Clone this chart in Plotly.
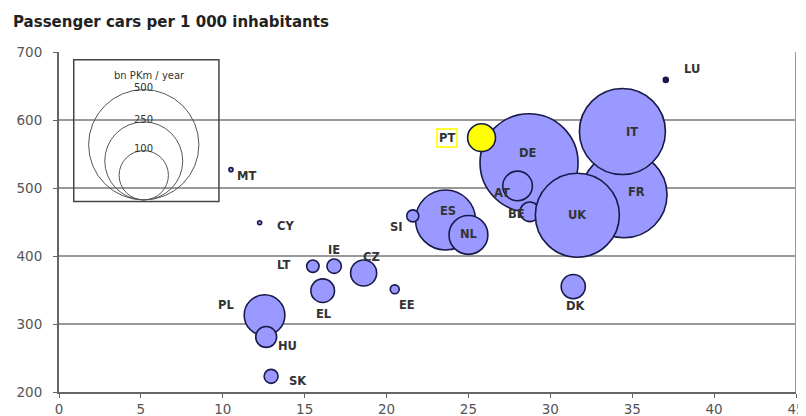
import plotly.graph_objects as go
import math

# ---- data ----
countries = ["FR", "IT", "DE", "ES", "NL", "BE", "UK", "AT", "PT", "SI", "DK",
             "PL", "HU", "SK", "LT", "IE", "CZ", "EL", "EE", "CY", "MT", "LU"]
x_values = [34.5, 34.4, 28.7, 23.6, 25.0, 28.75, 31.65, 28.0, 25.8, 21.6, 31.4,
            12.55, 12.65, 12.95, 15.5, 16.8, 18.6, 16.1, 20.5, 12.25, 10.5, 37.05]
cars_per_1000 = [490, 583, 537, 453, 431, 465, 460, 503, 574, 459, 355,
                 313, 281, 223, 385, 385, 375, 349, 351, 449, 527, 659]
bn_pkm = [304, 304, 395, 148, 62, 16, 290, 36, 32, 6, 24,
          68, 18, 8, 6.3, 8.5, 28, 23, 3.3, 0.2, 0.25, 1.0]
legend_values = [500, 250, 100]
x_ticks = list(range(0, 50, 5))
y_ticks = list(range(200, 800, 100))

# label offsets (pixels, dx right, dy down) -- styling only
label_offsets = {
    "LU": (26, -11), "IT": (10, 0), "FR": (12, -3), "DE": (-1, -10), "UK": (0, 0),
    "AT": (-16, 7), "BE": (-13, 2), "ES": (2, -9), "NL": (1, -1), "PT": (-35, 0),
    "SI": (-16, 11), "DK": (3, 19), "EE": (12, 16), "CY": (26, 3), "LT": (-29, -1),
    "IE": (0, -16), "CZ": (8, -16), "EL": (1, 23), "PL": (-39, -10), "HU": (21, 9),
    "SK": (27, 5), "MT": (16, 6),
}

SIZEREF = 0.0822  # area mode: radius_px = sqrt(v / (2*SIZEREF))
def radius_px(v):
    return math.sqrt(v / (2 * SIZEREF))

BUBBLE = "#9999FF"
colors = []
for c in countries:
    if c == "PT":
        colors.append("#FFFF00")
    elif c == "LU":
        colors.append("#1a1a4a")
    else:
        colors.append(BUBBLE)

fig = go.Figure()
fig.add_trace(go.Scatter(
    x=x_values, y=cars_per_1000, mode="markers", text=countries,
    marker=dict(size=bn_pkm, sizemode="area", sizeref=SIZEREF, sizemin=2,
                color=colors, opacity=1,
                line=dict(color="#1a1a4a", width=1.6)),
    hovertemplate="%{text}<extra></extra>", showlegend=False,
))

FONT = "DejaVu Sans"
annotations = []
for c, xv, yv in zip(countries, x_values, cars_per_1000):
    dx, dy = label_offsets[c]
    ann = dict(x=xv, y=yv, xref="x", yref="y", text=f"<b>{c}</b>", showarrow=False,
               xanchor="center", yanchor="middle",
               xshift=dx, yshift=-dy,
               font=dict(family=FONT, size=11.5, color="#333333"))
    if c == "PT":
        ann.update(bordercolor="#FFFF33", borderwidth=2, bgcolor="white", borderpad=1)
    annotations.append(ann)

PLOT_W, PLOT_H = 737, 340

# title
annotations.append(dict(xref="paper", yref="paper", x=-48 / PLOT_W, y=1 + 30 / PLOT_H,
                        xanchor="left", yanchor="middle",
                        text="<b>Passenger cars per 1 000 inhabitants</b>", showarrow=False,
                        font=dict(family=FONT, size=15, color="#222222")))

# size legend
LEG_CX, LEG_BOTTOM = 0.115, 0.565  # paper coords
shapes = [
    dict(type="rect", xref="paper", yref="paper", x0=0.02, x1=0.217, y0=0.56, y1=0.977,
         line=dict(color="#444444", width=1.5), fillcolor="rgba(0,0,0,0)", layer="above"),
    dict(type="line", xref="x", yref="paper", x0=45, x1=45, y0=0, y1=1,
         line=dict(color="#999999", width=2)),
]
for v in legend_values:
    r = radius_px(v)
    shapes.append(dict(type="circle", xref="paper", yref="paper",
                       xsizemode="pixel", ysizemode="pixel",
                       xanchor=LEG_CX, yanchor=LEG_BOTTOM,
                       x0=-r, x1=r, y0=0, y1=2 * r,
                       line=dict(color="#555555", width=1), layer="above"))
    annotations.append(dict(xref="paper", yref="paper", x=LEG_CX, y=LEG_BOTTOM + 2 * r / PLOT_H,
                            xanchor="center", yanchor="middle",
                            yshift=2, text=str(v), showarrow=False,
                            font=dict(family=FONT, size=10, color="#333333")))
annotations.append(dict(xref="paper", yref="paper", x=0.123, y=0.93,
                        xanchor="center", yanchor="middle",
                        text="bn PKm / year", showarrow=False,
                        font=dict(family=FONT, size=10, color="#333333")))

# the page body has an 8px margin, so the margins below are offset by 8px
fig.update_layout(
    width=806, height=416,
    margin=dict(l=51, r=18, t=44, b=32, autoexpand=False),
    paper_bgcolor="white", plot_bgcolor="white",
    xaxis=dict(range=[0, 45], tickvals=x_ticks, showgrid=False, zeroline=False,
               showline=True, linecolor="#666666", linewidth=2, automargin=False,
               ticks="outside", ticklen=4, tickcolor="#666666",
               tickfont=dict(family=FONT, size=13.5, color="#555555")),
    yaxis=dict(range=[200, 700], tickvals=y_ticks, showgrid=True, gridcolor="#999999",
               gridwidth=2, zeroline=False, showline=True, linecolor="#666666", linewidth=2,
               automargin=False,
               ticks="outside", ticklen=4, tickcolor="#666666", ticklabelstandoff=8,
               tickfont=dict(family=FONT, size=13.5, color="#555555")),
    annotations=annotations, shapes=shapes,
)

fig.write_html("out.html")
